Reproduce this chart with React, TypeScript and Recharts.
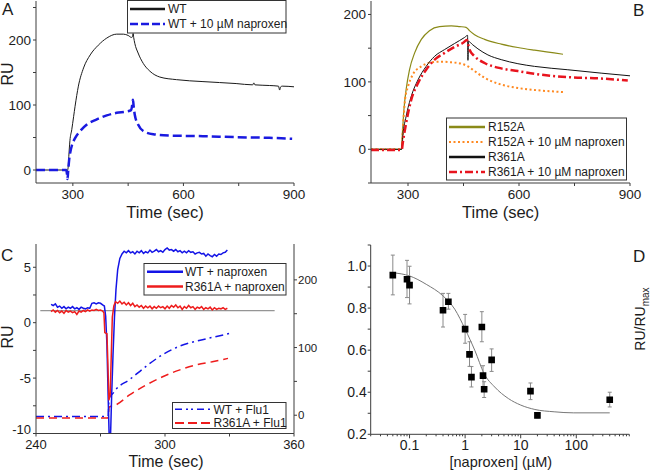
import React from 'react';
import { LineChart, Line, XAxis, YAxis, ComposedChart, Scatter, ErrorBar, ZAxis } from 'recharts';

const FONT = '"Liberation Sans", Arial, Helvetica, sans-serif';
const AXIS = '#3c3c3c';
const INK = '#1c1c1c';
const TICK_FONT = 13.5;

// ---------- panel A: WT binding with / without naproxen
const aWtT = [200, 240, 282, 285, 287, 289, 292, 297, 302, 306, 315, 329, 347, 369, 392, 419, 437, 450, 459, 462, 463.5, 465, 468, 477, 491, 509, 536, 581, 653, 743, 788, 791, 794, 833, 858, 861, 864, 868, 900];
const aWtV = [0, 0, 0, -1, 3, 21, 45, 62, 82, 98, 129, 157, 177, 192, 203, 209, 209, 207, 204, 205, 210, 204, 195, 180, 164, 152, 143, 139, 136, 133, 131, 134, 131, 130, 129, 123, 128, 129, 128];
const aNapT = [200, 240, 282, 284, 285.5, 287, 290, 294, 297, 306, 320, 338, 365, 392, 419, 446, 458, 461, 463, 465, 468, 477, 491, 518, 563, 653, 743, 833, 895];
const aNapV = [0, 0, 0, -6, -14, -4, 16, 30, 37, 49, 60, 70, 78, 84, 88, 90, 92, 100, 108, 98, 85, 70, 60, 55, 53, 52, 50.5, 49.5, 48];

// ---------- panel B: mutants
const bR152T = [200, 240, 282, 285, 289, 295, 304, 318, 336, 358, 385, 417, 440, 457, 466, 480, 507, 552, 597, 642, 719];
const bR152V = [0, 0, 0, 25, 59, 89, 118, 143, 163, 176, 182, 183, 182, 181, 176, 170, 163, 156, 151, 147, 141];
const bR152NapT = [200, 240, 283, 286, 292, 300, 313, 336, 363, 390, 417, 444, 462, 480, 507, 552, 597, 642, 719];
const bR152NapV = [0, 0, 0, 29, 74, 93, 111, 123, 129, 130, 129, 127, 123, 116, 106, 96, 91, 88, 85];
const bR361T = [200, 240, 283, 286, 295, 309, 327, 349, 372, 399, 426, 453, 461, 462, 463.5, 475, 489, 516, 552, 597, 642, 732, 822, 900];
const bR361V = [0, 0, 0, 20, 49, 79, 103, 123, 138, 148, 157, 166, 169, 132, 160, 155, 149, 140, 133, 127, 123, 118, 113, 109];
const bR361NapT = [200, 240, 283, 286, 295, 309, 327, 349, 372, 399, 426, 449, 459, 466, 480, 507, 552, 597, 642, 732, 822, 894];
const bR361NapV = [-1, -1, -1, 10, 39, 74, 98, 118, 133, 143, 152, 158, 162, 148, 138, 128, 120, 116, 112, 107, 105, 102];

// ---------- panel C: naproxen vs Flu1 injections
const cWtNapT = [247, 248, 249, 250, 251, 252, 253, 254, 255, 256, 257, 258, 259, 260, 261, 262, 263, 264, 265, 266, 267, 268, 269, 270, 271, 271.8, 272.4, 273, 273.6, 274, 274.7, 275.2, 275.8, 276.5, 277.2, 278, 279, 280, 281, 282, 283, 284, 285, 286, 287, 288, 289, 290, 291, 292, 293, 294, 295, 296, 297, 298, 299, 300, 301, 302, 303, 304, 305, 306, 307, 308, 309, 310, 311, 312, 313, 314, 315, 316, 317, 318, 319, 320, 321, 322, 323, 324, 325, 326, 327, 328, 329];
const cWtNapV = [1.65, 1.55, 1.7, 1.4, 1.5, 1.3, 1.45, 1.25, 1.4, 1.3, 1.45, 1.25, 1.35, 1.2, 1.4, 1.3, 1.25, 1.35, 1.3, 1.75, 1.8, 1.7, 1.8, 1.75, 1.6, 1.5, 0.6, -2, -7, -10, -10, -6.5, -3, 0.5, 3, 4.8, 5.8, 6.2, 6.45, 6.3, 6.5, 6.3, 6.4, 6.2, 6.45, 6.3, 6.5, 6.25, 6.4, 6.3, 6.55, 6.35, 6.45, 6.6, 6.4, 6.5, 6.35, 6.6, 6.75, 6.55, 6.6, 6.45, 6.6, 6.4, 6.5, 6.3, 6.45, 6.3, 6.5, 6.35, 6.4, 6.2, 6.3, 6.35, 6.2, 6.25, 6.0, 6.2, 6.05, 5.95, 6.15, 6.0, 6.2, 6.15, 6.3, 6.35, 6.55];
const cR361NapT = [247, 248, 249, 250, 251, 252, 253, 254, 255, 256, 257, 258, 259, 260, 261, 262, 263, 264, 265, 266, 267, 268, 269, 270, 271, 271.6, 272, 273, 273.4, 273.9, 274.5, 275, 275.5, 276.2, 277, 278, 279, 280, 281, 282, 283, 284, 285, 286, 287, 288, 289, 290, 291, 292, 293, 294, 295, 296, 297, 298, 299, 300, 301, 302, 303, 304, 305, 306, 307, 308, 309, 310, 311, 312, 313, 314, 315, 316, 317, 318, 319, 320, 321, 322, 323, 324, 325, 326, 327, 328, 329];
const cR361NapV = [1.0, 1.15, 0.95, 1.1, 0.9, 1.05, 0.85, 1.1, 0.95, 1.05, 0.9, 1.0, 0.75, 1.05, 0.95, 1.1, 1.0, 1.15, 1.05, 1.15, 1.1, 1.2, 1.1, 1.15, 1.05, 0.9, -0.9, -1.0, -3.5, -7, -6.5, -3, 0.5, 1.5, 1.9, 1.75, 1.95, 1.7, 1.85, 1.6, 1.8, 1.55, 1.75, 1.45, 1.6, 1.4, 1.55, 1.3, 1.5, 1.35, 1.5, 1.25, 1.45, 1.3, 1.5, 1.35, 1.45, 1.25, 1.5, 1.3, 1.55, 1.4, 1.6, 1.35, 1.5, 1.2, 1.45, 1.3, 1.55, 1.35, 1.45, 1.2, 1.4, 1.3, 1.45, 1.2, 1.35, 1.25, 1.4, 1.15, 1.35, 1.2, 1.3, 1.25, 1.35, 1.2, 1.3];
const cBaseT = [242, 351];
const cBaseV = [1.08, 1.08];
const cWtFluT = [240, 273.5, 274, 276, 277.1, 283.5, 291.2, 298.9, 306.6, 314.3, 322, 331.2];
const cWtFluV = [-2, -2, 25, 33, 37.8, 52.6, 72.3, 89.5, 101.8, 109.2, 115, 121.6];
const cR361FluT = [240, 273.5, 274, 277, 283.5, 291.2, 298.9, 306.6, 314.3, 322, 329.3];
const cR361FluV = [-4, -4, 12, 15, 29.9, 44.6, 56.9, 66.7, 74.1, 79, 84];

// ---------- panel D: dose response
const dConc = [0.05, 0.09, 0.1, 0.4, 0.5, 1.0, 1.2, 1.3, 2.0, 2.1, 2.2, 3.0, 15, 20, 400];
const dRatio = [0.957, 0.937, 0.909, 0.79, 0.83, 0.70, 0.58, 0.472, 0.71, 0.479, 0.414, 0.554, 0.405, 0.29, 0.364];
const dErrLo = [0.094, 0.087, 0.089, 0.08, 0.035, 0.067, 0.057, 0.047, 0.07, 0.054, 0.039, 0.055, 0.04, 0.012, 0.034];
const dErrHi = [0.095, 0.09, 0.09, 0.08, 0.04, 0.07, 0.06, 0.05, 0.073, 0.047, 0.036, 0.052, 0.039, 0.012, 0.036];
const dFitConc = [0.05, 0.1, 0.2, 0.4, 0.65, 1, 1.5, 2.2, 3.4, 6, 10, 18, 40, 90, 400];
const dFitRatio = [0.968, 0.953, 0.913, 0.858, 0.795, 0.70, 0.598, 0.488, 0.425, 0.37, 0.339, 0.318, 0.307, 0.302, 0.302];
const dMajorTicks = [0.1, 1, 10, 100];
const dDecades = [0.01, 0.1, 1, 10, 100];
const dYTicks = [0.2, 0.3, 0.4, 0.5, 0.6, 0.7, 0.8, 0.9, 1.0, 1.1];
const dYLabels = [0.2, 0.4, 0.6, 0.8, 1.0];

const timeTicks = [300, 450, 600, 750, 900];
const aYTicks = [0, 50, 100, 150, 200, 250];
const bYTicks = [-50, 0, 50, 100, 150, 200];
const cTimeTicks = [240, 270, 300, 330, 360];
const cLeftTicks = [-10, -7.5, -5, -2.5, 0, 2.5, 5];
const cRightTicks = [0, 50, 100, 150, 200];

type Series = {
  name: string;
  t: number[];
  v: number[];
  color: string;
  width: number;
  dash?: string;
  legendWidth: number;
  legendDash?: string;
  curve: 'monotone' | 'linear';
  axis?: string;
};

const seriesA: Series[] = [
  { name: 'WT', t: aWtT, v: aWtV, color: '#1a1a1a', width: 1, legendWidth: 2.5, curve: 'monotone' },
  { name: 'WT + 10 µM naproxen', t: aNapT, v: aNapV, color: '#1a1ae0', width: 2.5, dash: '9 4', legendWidth: 2.5, legendDash: '8 3', curve: 'monotone' },
];

const seriesB: Series[] = [
  { name: 'R152A', t: bR152T, v: bR152V, color: '#8a8a18', width: 1.2, legendWidth: 2.5, curve: 'monotone' },
  { name: 'R152A + 10 µM naproxen', t: bR152NapT, v: bR152NapV, color: '#ff8a22', width: 2, dash: '2 2.5', legendWidth: 2, legendDash: '2 2.5', curve: 'monotone' },
  { name: 'R361A', t: bR361T, v: bR361V, color: '#111111', width: 1, legendWidth: 2.5, curve: 'monotone' },
  { name: 'R361A + 10 µM naproxen', t: bR361NapT, v: bR361NapV, color: '#e8141e', width: 2.5, dash: '8 3 2 3', legendWidth: 2.5, legendDash: '8 3 2 3', curve: 'monotone' },
];

const seriesCTop: Series[] = [
  { name: 'WT + naproxen', t: cWtNapT, v: cWtNapV, color: '#1414e6', width: 1.5, legendWidth: 2.5, curve: 'linear', axis: 'left' },
  { name: 'R361A + naproxen', t: cR361NapT, v: cR361NapV, color: '#ee1c1c', width: 1.5, legendWidth: 2.5, curve: 'linear', axis: 'left' },
];

const seriesCBottom: Series[] = [
  { name: 'WT + Flu1', t: cWtFluT, v: cWtFluV, color: '#1414e6', width: 1.5, dash: '8 4 2 4', legendWidth: 1.5, legendDash: '7 4 2 3 2 4', curve: 'monotone', axis: 'right' },
  { name: 'R361A + Flu1', t: cR361FluT, v: cR361FluV, color: '#ee1c1c', width: 1.5, dash: '8 5', legendWidth: 2, legendDash: '9 4', curve: 'monotone', axis: 'right' },
];

const toRows = (t: number[], v: number[]) => t.map((x, i) => ({ t: x, v: v[i] }));
const timeLabel = (v: number) => (v % 300 === 0 ? String(v) : '');
const hundreds = (v: number) => (v >= 0 && v <= 200 && v % 100 === 0 ? String(v) : '');

const tickStyle = { fontSize: TICK_FONT, fill: INK };
const axisStyle = { stroke: AXIS };

const renderLine = (s: Series) => (
  <Line
    key={s.name}
    data={toRows(s.t, s.v)}
    dataKey="v"
    name={s.name}
    yAxisId={s.axis ?? 0}
    type={s.curve}
    stroke={s.color}
    strokeWidth={s.width}
    strokeDasharray={s.dash}
    dot={false}
    activeDot={false}
    isAnimationActive={false}
  />
);

function TimePanel({ series, yDomain, yTicks }: { series: Series[]; yDomain: [number, number]; yTicks: number[] }) {
  return (
    <LineChart width={325} height={235} margin={{ top: 1, right: series === seriesA ? 31 : 20, bottom: 0, left: 0 }}>
      <XAxis dataKey="t" type="number" domain={[200, 900]} allowDataOverflow ticks={timeTicks} interval={0}
        tickFormatter={timeLabel} height={52} tickSize={3} tickMargin={3}
        axisLine={axisStyle} tickLine={axisStyle} tick={tickStyle} />
      <YAxis type="number" domain={yDomain} allowDataOverflow ticks={yTicks} interval={0} tickFormatter={hundreds}
        width={series === seriesA ? 36 : 46} tickSize={3} tickMargin={2}
        axisLine={axisStyle} tickLine={axisStyle} tick={tickStyle} />
      <XAxis xAxisId="top" orientation="top" type="number" domain={[0, 1]} height={0} tick={false} tickLine={false} axisLine={axisStyle} />
      <YAxis yAxisId="frame" orientation="right" type="number" domain={[0, 1]} width={0} tick={false} tickLine={false} axisLine={axisStyle} />
      {series.map(renderLine)}
    </LineChart>
  );
}

// left RU ticks of panel C; the bottom label is nudged up off the time labels
const CLeftTick = (props: any) => {
  const { x, y, payload } = props;
  const label = payload.value % 5 === 0 ? String(payload.value) : '';
  return (
    <text x={x} y={y + (payload.value === -10 ? -4 : 0)} dy="0.355em" textAnchor="end" fontSize={13} fill={INK}>
      {label}
    </text>
  );
};

function PanelC() {
  return (
    <LineChart width={325} height={236} margin={{ top: 9, right: 0, bottom: 0, left: 0 }}>
      <XAxis dataKey="t" type="number" domain={[240, 360]} allowDataOverflow ticks={cTimeTicks} interval={0}
        tickFormatter={(v: number) => (v % 60 === 0 ? String(v) : '')} height={37.5} tickSize={3} tickMargin={3}
        axisLine={axisStyle} tickLine={axisStyle} tick={{ fontSize: 13, fill: INK }} />
      <YAxis yAxisId="left" type="number" domain={[-10, 7.1]} allowDataOverflow ticks={cLeftTicks} interval={0}
        width={36} tickSize={3} tickMargin={2} axisLine={axisStyle} tickLine={axisStyle} tick={<CLeftTick />} />
      <YAxis yAxisId="right" orientation="right" type="number" domain={[-27, 253]} allowDataOverflow ticks={cRightTicks} interval={0}
        tickFormatter={(v: number) => (v % 100 === 0 ? String(v) : '')} width={31} tickSize={3} tickMargin={1}
        axisLine={axisStyle} tickLine={axisStyle} tick={{ fontSize: 11.5, fill: INK }} />
      <XAxis xAxisId="top" orientation="top" type="number" domain={[0, 1]} height={0} tick={false} tickLine={false} axisLine={axisStyle} />
      <Line data={toRows(cBaseT, cBaseV)} dataKey="v" yAxisId="left" type="linear" stroke="#7a7a7a" strokeWidth={1}
        dot={false} activeDot={false} isAnimationActive={false} />
      {seriesCBottom.map(renderLine)}
      {seriesCTop.map(renderLine)}
    </LineChart>
  );
}

const dTicks = [...dDecades.flatMap((d) => [2, 3, 4, 5, 6, 7, 8, 9].map((m) => d * m)), ...dMajorTicks].sort((a, b) => a - b);

const LogTick = (props: any) => {
  const { x, y, payload } = props;
  const major = dMajorTicks.includes(payload.value);
  return (
    <g>
      <line x1={x} x2={x} y1={y} y2={y + (major ? 4 : 2)} stroke={AXIS} />
      {major && (
        <text x={x} y={y + 15.5} textAnchor="middle" fontSize={14} fill={INK}>
          {String(payload.value)}
        </text>
      )}
    </g>
  );
};

function PanelD() {
  const pts = dConc.map((x, i) => ({ x, y: dRatio[i], err: [dErrLo[i], dErrHi[i]] }));
  const fit = dFitConc.map((x, i) => ({ x, y: dFitRatio[i] }));
  return (
    <ComposedChart width={325} height={236} margin={{ top: 10, right: 20.7, bottom: 0, left: 0 }}>
      <XAxis dataKey="x" type="number" scale="log" domain={[0.02, 900]} allowDataOverflow ticks={dTicks} interval={0}
        tick={<LogTick />} tickLine={false} tickSize={0} tickMargin={0} height={36.7} axisLine={axisStyle} />
      <YAxis type="number" domain={[0.2, 1.1]} allowDataOverflow ticks={dYTicks} interval={0}
        tickFormatter={(v: number) => (dYLabels.includes(v) ? v.toFixed(1) : '')} width={45.7} tickSize={3} tickMargin={1}
        axisLine={axisStyle} tickLine={axisStyle} tick={{ fontSize: 14, fill: INK }} />
      <XAxis xAxisId="top" orientation="top" type="number" domain={[0, 1]} height={0} tick={false} tickLine={false} axisLine={axisStyle} />
      <YAxis yAxisId="frame" orientation="right" type="number" domain={[0, 1]} width={0} tick={false} tickLine={false} axisLine={axisStyle} />
      <ZAxis range={[44, 44]} />
      <Line data={fit} dataKey="y" type="monotone" stroke="#777777" strokeWidth={1} dot={false} activeDot={false} isAnimationActive={false} />
      <Scatter data={pts} dataKey="y" fill="#000000" shape="square" isAnimationActive={false}>
        <ErrorBar dataKey="err" direction="y" width={2} stroke="#8a8a8a" strokeWidth={1} isAnimationActive={false} />
      </Scatter>
    </ComposedChart>
  );
}

function LegendBox({ x, y, w, h, rows, rowY, lx1, lx2, tx }: {
  x: number; y: number; w: number; h: number; rows: Series[]; rowY: number[]; lx1: number; lx2: number; tx: number;
}) {
  return (
    <g>
      <rect x={x} y={y} width={w} height={h} fill="#ffffff" stroke="#333333" strokeWidth={1} />
      {rows.map((s, i) => (
        <g key={s.name}>
          <line x1={lx1} x2={lx2} y1={rowY[i]} y2={rowY[i]} stroke={s.color} strokeWidth={s.legendWidth} strokeDasharray={s.legendDash} />
          <text x={tx} y={rowY[i] + 4.2} fontSize={12} fill={INK}>{s.name}</text>
        </g>
      ))}
    </g>
  );
}

export default function App() {
  return (
    <div style={{ position: 'absolute', left: 0, top: 0, width: 650, height: 471, background: '#ffffff', fontFamily: FONT, overflow: 'hidden' }}>
      <div style={{ position: 'absolute', left: 0, top: 0 }}>
        <TimePanel series={seriesA} yDomain={[-20, 260]} yTicks={aYTicks} />
      </div>
      <div style={{ position: 'absolute', left: 325, top: 0 }}>
        <TimePanel series={seriesB} yDomain={[-50, 220]} yTicks={bYTicks} />
      </div>
      <div style={{ position: 'absolute', left: 0, top: 235 }}>
        <PanelC />
      </div>
      <div style={{ position: 'absolute', left: 325, top: 235 }}>
        <PanelD />
      </div>
      <svg width={650} height={471} style={{ position: 'absolute', left: 0, top: 0, pointerEvents: 'none' }} fontFamily={FONT}>
        <LegendBox x={127.5} y={0.5} w={158.5} h={32.5} rows={seriesA} rowY={[9, 24]} lx1={130} lx2={165} tx={168} />
        <LegendBox x={446.5} y={118} w={180} h={62} rows={seriesB} rowY={[127, 142, 157, 172]} lx1={449} lx2={485} tx={488} />
        <LegendBox x={144} y={263.5} w={142} h={31.5} rows={seriesCTop} rowY={[271.7, 286.5]} lx1={147} lx2={183} tx={185} />
        <LegendBox x={172.5} y={402.5} w={113.5} h={26} rows={seriesCBottom} rowY={[409.3, 423]} lx1={175} lx2={212} tx={213.5} />

        <text x={2} y={15} fontSize={17} fill={INK}>A</text>
        <text x={633} y={16} fontSize={17} fill={INK}>B</text>
        <text x={1} y={261} fontSize={17} fill={INK}>C</text>
        <text x={633} y={262} fontSize={17} fill={INK}>D</text>

        <text transform="translate(13,74) rotate(-90)" textAnchor="middle" fontSize={16} fill={INK}>RU</text>
        <text transform="translate(13,337) rotate(-90)" textAnchor="middle" fontSize={16} fill={INK}>RU</text>
        <text transform="translate(645,319) rotate(-90)" textAnchor="middle" fontSize={14} fill={INK}>
          RU/RU<tspan fontSize={10} dy={4}>max</tspan>
        </text>

        <text x={165} y={217.5} textAnchor="middle" fontSize={16.5} fill={INK}>Time (sec)</text>
        <text x={500.7} y={217.5} textAnchor="middle" fontSize={16.5} fill={INK}>Time (sec)</text>
        <text x={166} y={467} textAnchor="middle" fontSize={16} fill={INK}>Time (sec)</text>
        <text x={500.8} y={466.5} textAnchor="middle" fontSize={14.5} fill={INK}>[naproxen] (µM)</text>
      </svg>
    </div>
  );
}
